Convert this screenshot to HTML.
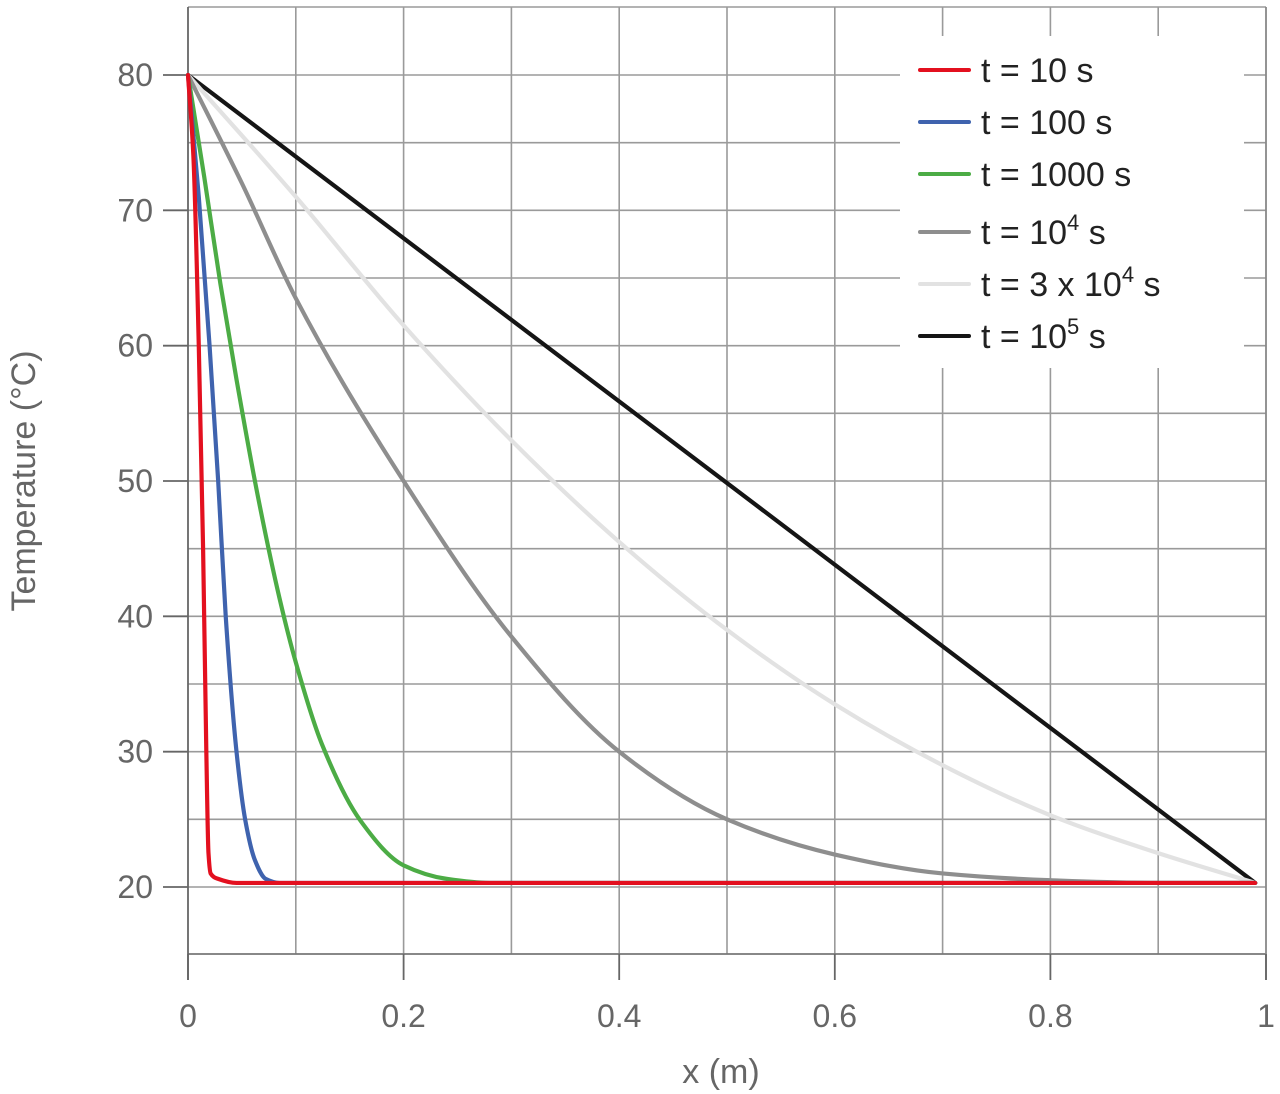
<!DOCTYPE html>
<html><head><meta charset="utf-8"><style>
body{margin:0;background:#fff}
svg{display:block;font-family:"Liberation Sans",sans-serif}
</style></head><body>
<svg id="chart" width="1280" height="1094" viewBox="0 0 1280 1094"></svg>
<script>
const xTicks=[0,0.2,0.4,0.6,0.8,1];
const xTickLabels=["0","0.2","0.4","0.6","0.8","1"];
const yTicks=[20,30,40,50,60,70,80];
const yTickLabels=["20","30","40","50","60","70","80"];
const seriesNames=["t10","t100","t1000","t1e4","t3e4","t1e5"];
const seriesColors=["#e3101f","#3f63ae","#4cac45","#8e8e8e","#e2e2e2","#151515"];
const t10=[[0,80],[0.005,74],[0.01,60],[0.014,45],[0.017,30],[0.019,22.5],[0.021,21],[0.028,20.6],[0.045,20.3],[0.1,20.3],[0.5,20.3],[0.99,20.3]];
const t100=[[0,80],[0.01,71],[0.02,60],[0.028,50],[0.035,40],[0.045,30],[0.053,25],[0.062,22],[0.072,20.6],[0.085,20.3],[0.5,20.3],[0.99,20.3]];
const t1000=[[0,80],[0.015,72.5],[0.03,64.6],[0.045,57.5],[0.065,48.8],[0.085,41.3],[0.1,36.6],[0.124,30.6],[0.16,24.9],[0.2,21.6],[0.24,20.6],[0.28,20.3],[0.6,20.3],[0.99,20.3]];
const t1e4=[[0,80],[0.05,72],[0.1,63.5],[0.2,50],[0.3,38.5],[0.4,30],[0.5,25],[0.6,22.4],[0.7,21],[0.8,20.5],[0.9,20.3],[0.99,20.3]];
const t3e4=[[0,80],[0.1,71],[0.2,61.5],[0.3,53],[0.4,45.5],[0.5,39],[0.6,33.5],[0.7,29],[0.8,25.3],[0.9,22.5],[0.99,20.3]];
const t1e5=[[0,80],[0.99,20.3]];
const legendLabels=["t = 10 s","t = 100 s","t = 1000 s","t = 10|4| s","t = 3 x 10|4| s","t = 10|5| s"];

const NS="http://www.w3.org/2000/svg";
const svg=document.getElementById('chart');
const X0=188,X1=1266,YTOP=7,YBOT=954;
const xs=v=>X0+(X1-X0)*v;
const ys=v=>75+(80-v)*(887-75)/60;
function mk(tag,attrs,parent){const e=document.createElementNS(NS,tag);for(const k in attrs)e.setAttribute(k,attrs[k]);(parent||svg).appendChild(e);return e;}
const grid=mk('g',{});


for(let i=1;i<10;i++){const l=mk('line',{x1:xs(i/10),x2:xs(i/10),y1:YTOP,y2:YBOT,stroke:'#9a9a9a','stroke-width':1.6},grid);

}
for(let v=20;v<=80;v+=5){const l=mk('line',{x1:X0,x2:X1,y1:ys(v),y2:ys(v),stroke:'#9a9a9a','stroke-width':1.6},grid);

}
mk('line',{x1:X0,x2:X1,y1:YTOP,y2:YTOP,stroke:'#9a9a9a','stroke-width':1.6},grid);
mk('line',{x1:X0,x2:X1,y1:YBOT,y2:YBOT,stroke:'#777','stroke-width':1.8},grid);
mk('line',{x1:X0,x2:X0,y1:YTOP,y2:980,stroke:'#666','stroke-width':1.8},grid);
mk('line',{x1:X1,x2:X1,y1:YTOP,y2:980,stroke:'#888','stroke-width':1.8},grid);
xTicks.forEach((v,i)=>{mk('line',{x1:xs(v),x2:xs(v),y1:YBOT,y2:980,stroke:'#666','stroke-width':1.8});
const t=mk('text',{x:xs(v),y:1027,'text-anchor':'middle','font-size':32,fill:'#666'});t.textContent=xTickLabels[i];

});
yTicks.forEach((v,i)=>{mk('line',{x1:163,x2:X0,y1:ys(v),y2:ys(v),stroke:'#666','stroke-width':1.8});
const t=mk('text',{x:153,y:ys(v)+11,'text-anchor':'end','font-size':32,fill:'#666'});t.textContent=yTickLabels[i];

});
const xt=mk('text',{x:721,y:1083,'text-anchor':'middle','font-size':34,fill:'#666'});xt.textContent='x (m)';


const yt=mk('text',{x:0,y:0,transform:'translate(35,481) rotate(-90)','text-anchor':'middle','font-size':34,fill:'#666'});yt.textContent='Temperature (°C)';


// monotone-X cubic interpolation (no overshoot)
function pathFor(pts){const p=pts.map(d=>[xs(d[0]),ys(d[1])]);const n=p.length;
if(n<3)return 'M'+p[0][0]+','+p[0][1]+' L'+p[1][0]+','+p[1][1];
const dx=[],sl=[];for(let i=0;i<n-1;i++){dx[i]=p[i+1][0]-p[i][0];sl[i]=(p[i+1][1]-p[i][1])/dx[i];}
const m=[sl[0]];for(let i=1;i<n-1;i++){if(sl[i-1]*sl[i]<=0)m[i]=0;else{const w1=2*dx[i]+dx[i-1],w2=dx[i]+2*dx[i-1];m[i]=(w1+w2)/(w1/sl[i-1]+w2/sl[i]);}}
m[n-1]=sl[n-2];
let s='M'+p[0][0]+','+p[0][1];
for(let i=0;i<n-1;i++){const h=dx[i]/3;s+=' C'+(p[i][0]+h)+','+(p[i][1]+m[i]*h)+' '+(p[i+1][0]-h)+','+(p[i+1][1]-m[i+1]*h)+' '+p[i+1][0]+','+p[i+1][1];}
return s;}
const allSeries=[t10,t100,t1000,t1e4,t3e4,t1e5];
for(let i=allSeries.length-1;i>=0;i--){const p=mk('path',{d:pathFor(allSeries[i]),fill:'none',stroke:seriesColors[i],'stroke-width':4.2,'stroke-linejoin':'round','stroke-linecap':'round'});

}
const lg=mk('g',{});


mk('rect',{x:900,y:36,width:344,height:332,fill:'#fff'},lg);
const ly=[70,122,174,232,284,336];
legendLabels.forEach((lab,i)=>{const g=mk('g',{},lg);


mk('line',{x1:920,x2:969,y1:ly[i],y2:ly[i],stroke:seriesColors[i],'stroke-width':4,'stroke-linecap':'round'},g);
const t=mk('text',{x:981,y:ly[i]+12,'font-size':34,fill:'#222'},g);
const parts=lab.split('|');
parts.forEach((s,j)=>{const ts=mk('tspan',{},t);ts.textContent=s;if(j===1){ts.setAttribute('font-size',22);ts.setAttribute('dy',-14);}if(j===2){ts.setAttribute('dy',14);}});});
</script>
</body></html>
